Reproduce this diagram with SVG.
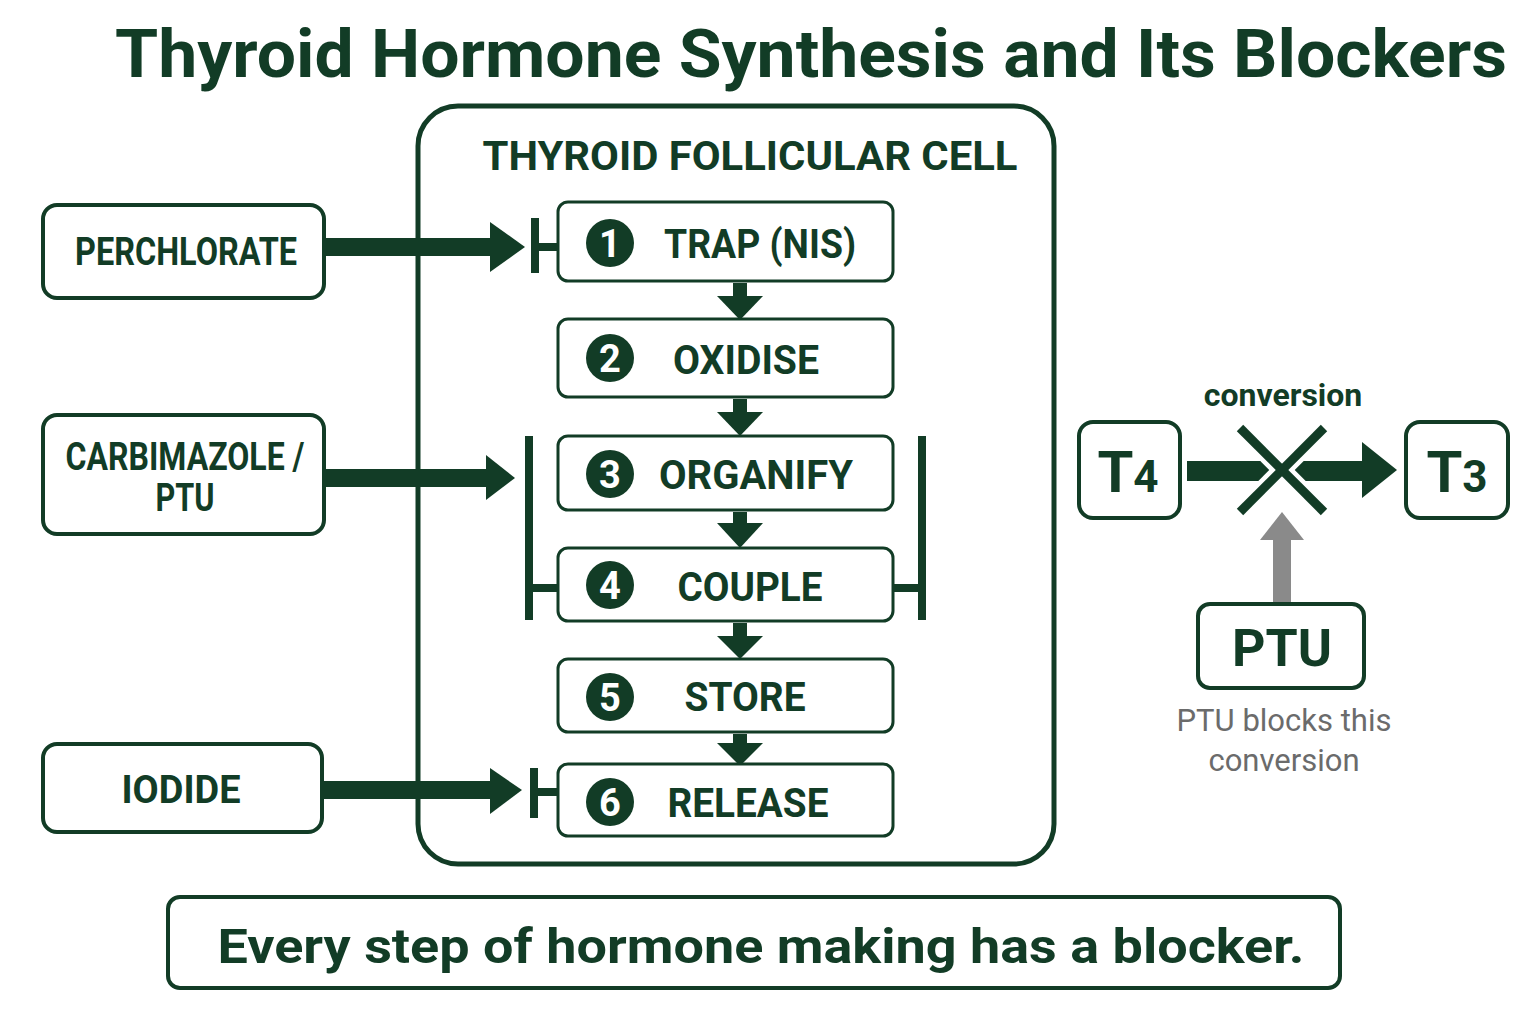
<svg xmlns="http://www.w3.org/2000/svg" width="1536" height="1024" viewBox="0 0 1536 1024">
<style>
.bx{fill:#fff;stroke:#123c26;stroke-width:4}
.sb{fill:#fff;stroke:#123c26;stroke-width:3}
.lb{font-family:Roboto,"Liberation Sans",sans-serif;font-weight:bold;fill:#123c26;text-anchor:middle}
.num{font-family:Roboto,"Liberation Sans",sans-serif;font-weight:bold;fill:#fff;text-anchor:middle;font-size:38px}
.dk{fill:#123c26}
</style>
<rect width="1536" height="1024" fill="#fff"/>
<text class="lb" x="811" y="77" font-size="66" textLength="1392" lengthAdjust="spacingAndGlyphs">Thyroid Hormone Synthesis and Its Blockers</text>

<g id="cell">
<rect x="418" y="106" width="636" height="758" rx="40" fill="#fff" stroke="#123c26" stroke-width="5"/>
<text class="lb" x="750" y="170" font-size="40" textLength="535" lengthAdjust="spacingAndGlyphs">THYROID FOLLICULAR CELL</text>
</g>

<g id="connectors">
<g class="dk">
<rect x="733" y="283" width="14" height="14"/><polygon points="717,296 763,296 740,320"/>
<rect x="733" y="399" width="14" height="14"/><polygon points="717,412 763,412 740,436"/>
<rect x="733" y="512" width="14" height="12"/><polygon points="717,523 763,523 740,548"/>
<rect x="733" y="623" width="14" height="14"/><polygon points="717,636 763,636 740,659"/>
<rect x="733" y="734" width="14" height="10"/><polygon points="717,743 763,743 740,766"/>
</g>
<g class="dk">
<rect x="324" y="238" width="170" height="18"/><polygon points="490,222 525,247 490,272"/>
<rect x="531" y="218" width="8" height="55"/><rect x="535" y="243" width="25" height="8"/>
</g>
<g class="dk">
<rect x="324" y="469" width="166" height="18"/><polygon points="486,455 515,478 486,500"/>
<rect x="525" y="436" width="8" height="184"/><rect x="529" y="584" width="32" height="8"/>
<rect x="918" y="436" width="8" height="184"/><rect x="890" y="584" width="32" height="8"/>
</g>
<g class="dk">
<rect x="322" y="781" width="170" height="18"/><polygon points="490,768 522,790 490,814"/>
<rect x="530" y="768" width="8" height="50"/><rect x="534" y="788" width="26" height="8"/>
</g>
<g>
<rect class="dk" x="1187" y="461" width="180" height="20"/>
<polygon class="dk" points="1362,442 1397,470 1362,498"/>
<line x1="1240" y1="428" x2="1324" y2="512" stroke="#fff" stroke-width="18"/>
<line x1="1324" y1="428" x2="1240" y2="512" stroke="#fff" stroke-width="18"/>
<line x1="1240" y1="428" x2="1324" y2="512" stroke="#123c26" stroke-width="9"/>
<line x1="1324" y1="428" x2="1240" y2="512" stroke="#123c26" stroke-width="9"/>
<rect x="1273" y="538" width="18" height="66" fill="#8a8a8a"/>
<polygon points="1260,540 1282,512 1304,540" fill="#8a8a8a"/>
</g>
</g>

<g id="perchlorate"><rect class="bx" x="43" y="205" width="281" height="93" rx="14"/>
<text class="lb" x="186" y="265" font-size="38" textLength="222" lengthAdjust="spacingAndGlyphs">PERCHLORATE</text></g>
<g id="carbimazole"><rect class="bx" x="43" y="415" width="281" height="119" rx="14"/>
<text class="lb" x="185" y="470" font-size="38" textLength="239" lengthAdjust="spacingAndGlyphs">CARBIMAZOLE /</text>
<text class="lb" x="185" y="511" font-size="38" textLength="59" lengthAdjust="spacingAndGlyphs">PTU</text></g>
<g id="iodide"><rect class="bx" x="43" y="744" width="279" height="88" rx="14"/>
<text class="lb" x="181" y="803" font-size="38" textLength="119" lengthAdjust="spacingAndGlyphs">IODIDE</text></g>

<g id="step1"><rect class="sb" x="558" y="202" width="335" height="79" rx="10"/>
<circle class="dk" cx="610" cy="243" r="24"/><text class="num" x="610" y="257">1</text>
<text class="lb" x="760" y="258" font-size="40" textLength="192" lengthAdjust="spacingAndGlyphs">TRAP (NIS)</text></g>
<g id="step2"><rect class="sb" x="558" y="319" width="335" height="78" rx="10"/>
<circle class="dk" cx="610" cy="358" r="24"/><text class="num" x="610" y="372">2</text>
<text class="lb" x="746" y="374" font-size="40" textLength="146" lengthAdjust="spacingAndGlyphs">OXIDISE</text></g>
<g id="step3"><rect class="sb" x="558" y="436" width="335" height="74" rx="10"/>
<circle class="dk" cx="610" cy="474" r="24"/><text class="num" x="610" y="488">3</text>
<text class="lb" x="756" y="489" font-size="40" textLength="194" lengthAdjust="spacingAndGlyphs">ORGANIFY</text></g>
<g id="step4"><rect class="sb" x="558" y="548" width="335" height="73" rx="10"/>
<circle class="dk" cx="610" cy="585" r="24"/><text class="num" x="610" y="599">4</text>
<text class="lb" x="750" y="601" font-size="40" textLength="145" lengthAdjust="spacingAndGlyphs">COUPLE</text></g>
<g id="step5"><rect class="sb" x="558" y="659" width="335" height="73" rx="10"/>
<circle class="dk" cx="610" cy="697" r="24"/><text class="num" x="610" y="711">5</text>
<text class="lb" x="745" y="711" font-size="40" textLength="121" lengthAdjust="spacingAndGlyphs">STORE</text></g>
<g id="step6"><rect class="sb" x="558" y="764" width="335" height="72" rx="10"/>
<circle class="dk" cx="610" cy="802" r="24"/><text class="num" x="610" y="816">6</text>
<text class="lb" x="748" y="817" font-size="40" textLength="161" lengthAdjust="spacingAndGlyphs">RELEASE</text></g>

<text class="lb" x="1283" y="406" font-size="32">conversion</text>
<g id="t4"><rect class="bx" x="1079" y="422" width="101" height="96" rx="14"/>
<text class="lb" x="1128" y="492" font-size="58">T<tspan font-size="44">4</tspan></text></g>
<g id="t3"><rect class="bx" x="1406" y="422" width="102" height="96" rx="14"/>
<text class="lb" x="1457" y="492" font-size="58">T<tspan font-size="44">3</tspan></text></g>
<g id="ptu"><rect class="bx" x="1198" y="604" width="166" height="84" rx="12"/>
<text class="lb" x="1282" y="666" font-size="52">PTU</text></g>
<text x="1284" y="731" font-family="Roboto,'Liberation Sans',sans-serif" font-size="31" fill="#6b6b6b" text-anchor="middle">PTU blocks this</text>
<text x="1284" y="771" font-family="Roboto,'Liberation Sans',sans-serif" font-size="31" fill="#6b6b6b" text-anchor="middle">conversion</text>

<g id="summary"><rect class="bx" x="168" y="897" width="1172" height="91" rx="12"/>
<text class="lb" x="761" y="963" font-size="48" textLength="1087" lengthAdjust="spacingAndGlyphs">Every step of hormone making has a blocker.</text></g>
</svg>
